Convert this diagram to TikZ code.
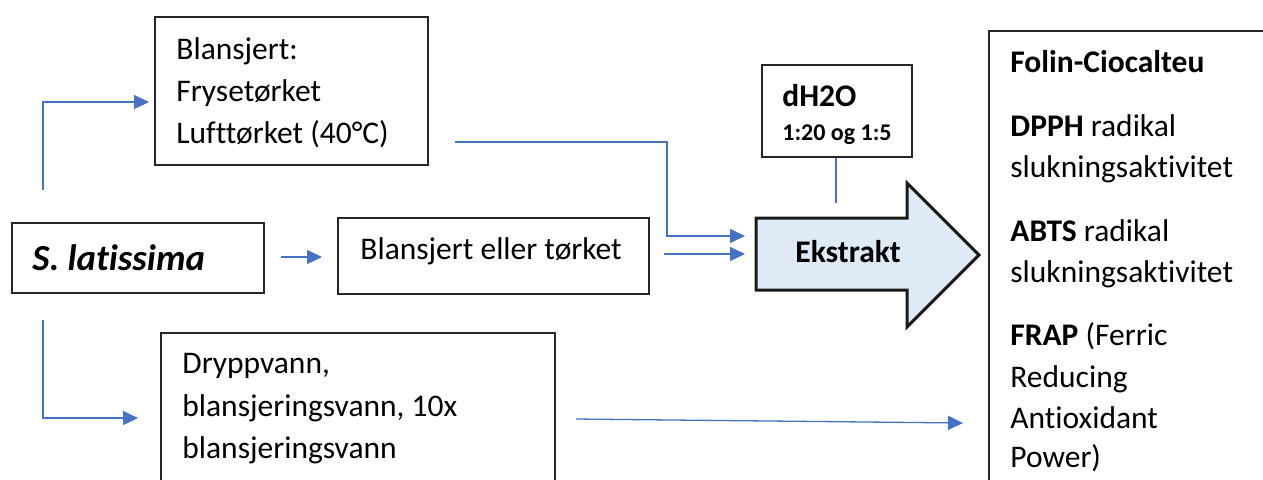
\documentclass[tikz,border=0pt]{standalone}
\usepackage{fontspec}
\setmainfont{Carlito}[Ligatures=NoCommon]
\usetikzlibrary{arrows.meta,fit,calc}
\definecolor{linkblue}{HTML}{4472C4}
\definecolor{extfill}{HTML}{DEEBF7}
\begin{document}
\begin{tikzpicture}[x=0.5pt,y=-0.5pt,
  box/.style={draw=black!85, line width=0.7pt, inner sep=0pt},
  link/.style={draw=linkblue, line width=0.65pt, -{Triangle[length=7.5pt,width=7pt]}},
  plain/.style={draw=linkblue, line width=0.65pt},
  txt/.style={anchor=base west, inner sep=0pt, font=\fontsize{15.75pt}{20pt}\selectfont},
  btxt/.style={anchor=base west, inner sep=0pt, font=\fontsize{15.75pt}{20pt}\selectfont\bfseries},
  stxt/.style={anchor=base west, inner sep=0pt, font=\fontsize{12pt}{15pt}\selectfont\bfseries},
  bigarrow/.style={draw=black!90, line width=1.5pt, fill=extfill},
]
\useasboundingbox (0,0) rectangle (1263,479);
\clip (0,0) rectangle (1263,479);

% boxes
\node[box, fit={(155,17) (428,165)}] (blz) {};
\node[box, fit={(12,223) (264,293)}] (sl) {};
\node[box, fit={(338,218) (649,294)}] (bet) {};
\node[box, fit={(762,65) (912,157)}] (dh) {};
\node[box, fit={(161,333) (555,500)}] (dry) {};
\node[box, fit={(989,31) (1280,500)}] (ana) {};

% extraction arrow
\draw[bigarrow] (756,218) -- (907,218) -- (907,183) -- (979,255) -- (907,327) -- (907,290) -- (756,290) -- cycle;
\node[btxt] (ekstrakt) at (795,262) {Ekstrakt};

% texts
\node[txt] (b1) at (176,59) {Blansjert:};
\node[txt] (b2) at (176,101) {Frysetørket};
\node[txt] (b3) at (176,143) {Lufttørket (40°C)};
\node[anchor=base west, inner sep=0pt, font=\fontsize{18.4pt}{22pt}\selectfont\bfseries\itshape] (sltxt) at (32,270) {S. latissima};
\node[txt] (bettxt) at (360,259) {Blansjert eller tørket};
\node[btxt] (dh1) at (782,106) {dH2O};
\node[stxt] (dh2) at (782,140) {1:20 og 1:5};
\node[txt] (d1) at (182,373) {Dryppvann,};
\node[txt] (d2) at (182,416) {blansjeringsvann, 10x};
\node[txt] (d3) at (182,458) {blansjeringsvann};
\node[btxt] (a1) at (1010,72) {Folin-Ciocalteu};
\node[txt] (a2) at (1010,136) {\textbf{DPPH} radikal};
\node[txt] (a3) at (1010,177) {slukningsaktivitet};
\node[txt] (a4) at (1010,241) {\textbf{ABTS} radikal};
\node[txt] (a5) at (1010,282) {slukningsaktivitet};
\node[txt] (a6) at (1010,345) {\textbf{FRAP} (Ferric};
\node[txt] (a7) at (1010,387) {Reducing};
\node[txt] (a8) at (1010,428) {Antioxidant};
\node[txt] (a9) at (1010,467) {Power)};

% connector ends
\coordinate (up) at (43,190);
\coordinate (blzIn) at (149,102);
\coordinate (down) at (43,320);
\coordinate (dryIn) at (138,418);
\coordinate (blzOut) at (455,142);
\coordinate (extIn1) at (745,236);
\coordinate (extIn2) at (745,254);
\coordinate (betOut) at (664,254);
\coordinate (slOut) at (281,257);
\coordinate (betIn) at (322,257);
\coordinate (dryOut) at (576,419);
\coordinate (anaIn) at (963,423);
\coordinate (dhDown) at (836,203);

% connectors
\draw[link] (up) |- (blzIn);
\draw[link] (down) |- (dryIn);
\draw[link] (slOut) -- (betIn);
\draw[link] (blzOut) -| ++(212,94) -- (extIn1);
\draw[link] (betOut) -- (extIn2);
\draw[plain] (dh.south -| dhDown) -- (dhDown);
\draw[link] (dryOut) -- (anaIn);
\end{tikzpicture}
\end{document}
